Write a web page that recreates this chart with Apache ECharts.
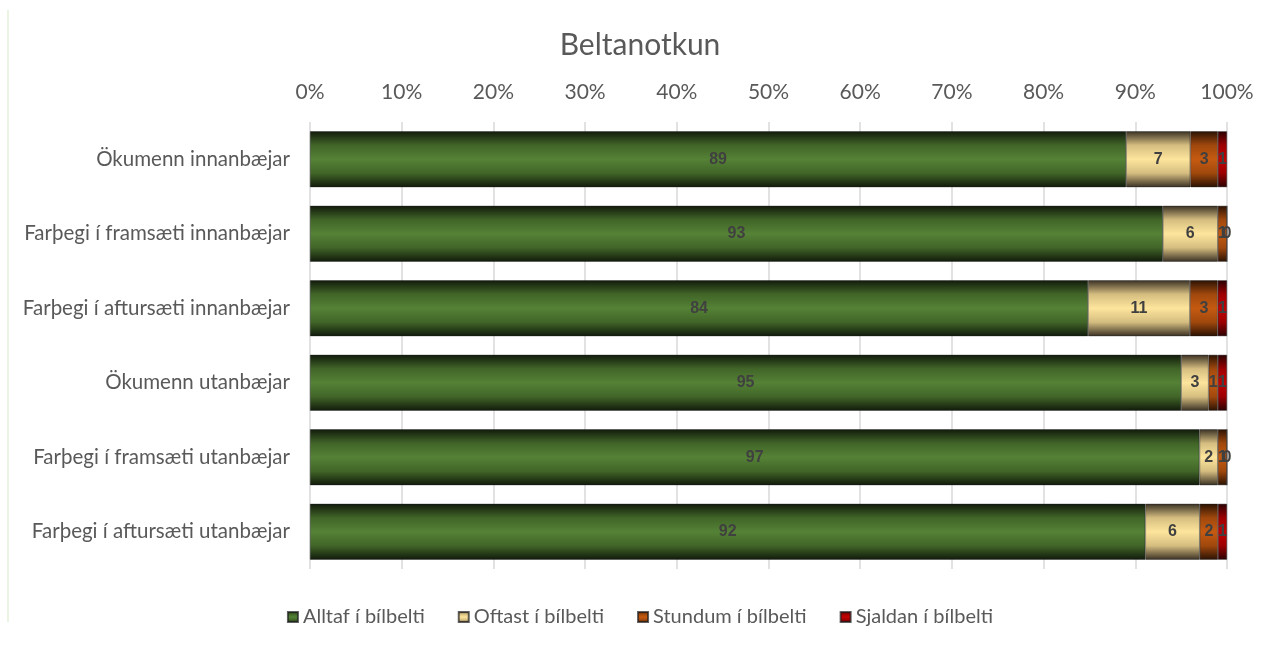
<!DOCTYPE html>
<html>
<head>
<meta charset="utf-8">
<script src="https://cdn.jsdelivr.net/npm/echarts@6/dist/echarts.min.js"></script>
<style>
  html, body { margin: 0; padding: 0; background: #fff; }
  #chart { width: 1280px; height: 646px; }
</style>
</head>
<body>
<div id="chart"></div>
<script>
const categories = [
  "Ökumenn innanbæjar",
  "Farþegi í framsæti innanbæjar",
  "Farþegi í aftursæti innanbæjar",
  "Ökumenn utanbæjar",
  "Farþegi í framsæti utanbæjar",
  "Farþegi í aftursæti utanbæjar"
]
const seriesNames = ["Alltaf í bílbelti", "Oftast í bílbelti", "Stundum í bílbelti", "Sjaldan í bílbelti"]
const alltaf = [89, 93, 84, 95, 97, 92]
const oftast = [7, 6, 11, 3, 2, 6]
const stundum = [3, 1, 3, 1, 1, 2]
const sjaldan = [1, 0, 1, 1, 0, 1]
const xTicks = [0, 10, 20, 30, 40, 50, 60, 70, 80, 90, 100]

const rows = [alltaf, oftast, stundum, sjaldan]
const totals = categories.map((c, i) => rows.reduce((s, r) => s + r[i], 0))

// vertical shaded fill like the old excel bars
const shade = (edge, mid, center) => new echarts.graphic.LinearGradient(0, 0, 0, 1, [
  { offset: 0, color: edge },
  { offset: 0.25, color: mid },
  { offset: 0.5, color: center },
  { offset: 0.75, color: mid },
  { offset: 1, color: edge }
])
const fills = [
  shade("#111a0b", "#416528", "#558236"),
  shade("#3a3124", "#d5bd80", "#fde59d"),
  shade("#2a1203", "#a0480d", "#c55a11"),
  shade("#2a0202", "#9c0000", "#c40000")
]

const chart = echarts.init(document.getElementById("chart"), null, { renderer: "canvas" })

chart.setOption({
  animation: false,
  textStyle: { fontFamily: "Lato" },
  title: {
    text: "Beltanotkun",
    left: "center",
    top: 25,
    textStyle: { fontFamily: "Lato", fontSize: 30, fontWeight: "normal", color: "#595959" }
  },
  legend: {
    bottom: 14,
    left: "center",
    icon: "rect",
    itemWidth: 10,
    itemHeight: 10,
    itemGap: 33,
    textStyle: { fontFamily: "Lato", fontSize: 20, color: "#595959" },
    data: seriesNames
  },
  grid: { left: 310, right: 53, top: 122, bottom: 77 },
  xAxis: {
    type: "value",
    position: "top",
    min: 0,
    max: 100,
    interval: 10,
    axisLine: { show: false },
    axisTick: { show: false },
    axisLabel: {
      margin: 19,
      fontFamily: "Lato",
      fontSize: 21,
      color: "#595959",
      formatter: v => xTicks.includes(v) ? v + "%" : ""
    },
    splitLine: { lineStyle: { color: "#d9d9d9", width: 1.5 } }
  },
  yAxis: {
    type: "category",
    inverse: true,
    data: categories,
    axisLine: { show: false },
    axisTick: { show: false },
    axisLabel: { margin: 20, fontFamily: "Lato", fontSize: 20.5, color: "#595959" }
  },
  series: rows.map((r, k) => ({
    name: seriesNames[k],
    type: "bar",
    stack: "all",
    barCategoryGap: "25%",
    itemStyle: { color: fills[k], borderColor: "rgba(30,30,30,0.7)", borderWidth: 0.6 },
    label: {
      show: true,
      position: "inside",
      fontFamily: "Liberation Sans",
      fontSize: 16,
      fontWeight: "bold",
      color: "#404040",
      formatter: p => p.data.raw
    },
    data: r.map((v, i) => ({ value: v / totals[i] * 100, raw: v }))
  })),
  graphic: [
    { type: "line", shape: { x1: 8, y1: 10, x2: 8, y2: 622 }, style: { stroke: "#e3f0da", lineWidth: 1.5 } }
  ]
})
</script>
</body>
</html>
